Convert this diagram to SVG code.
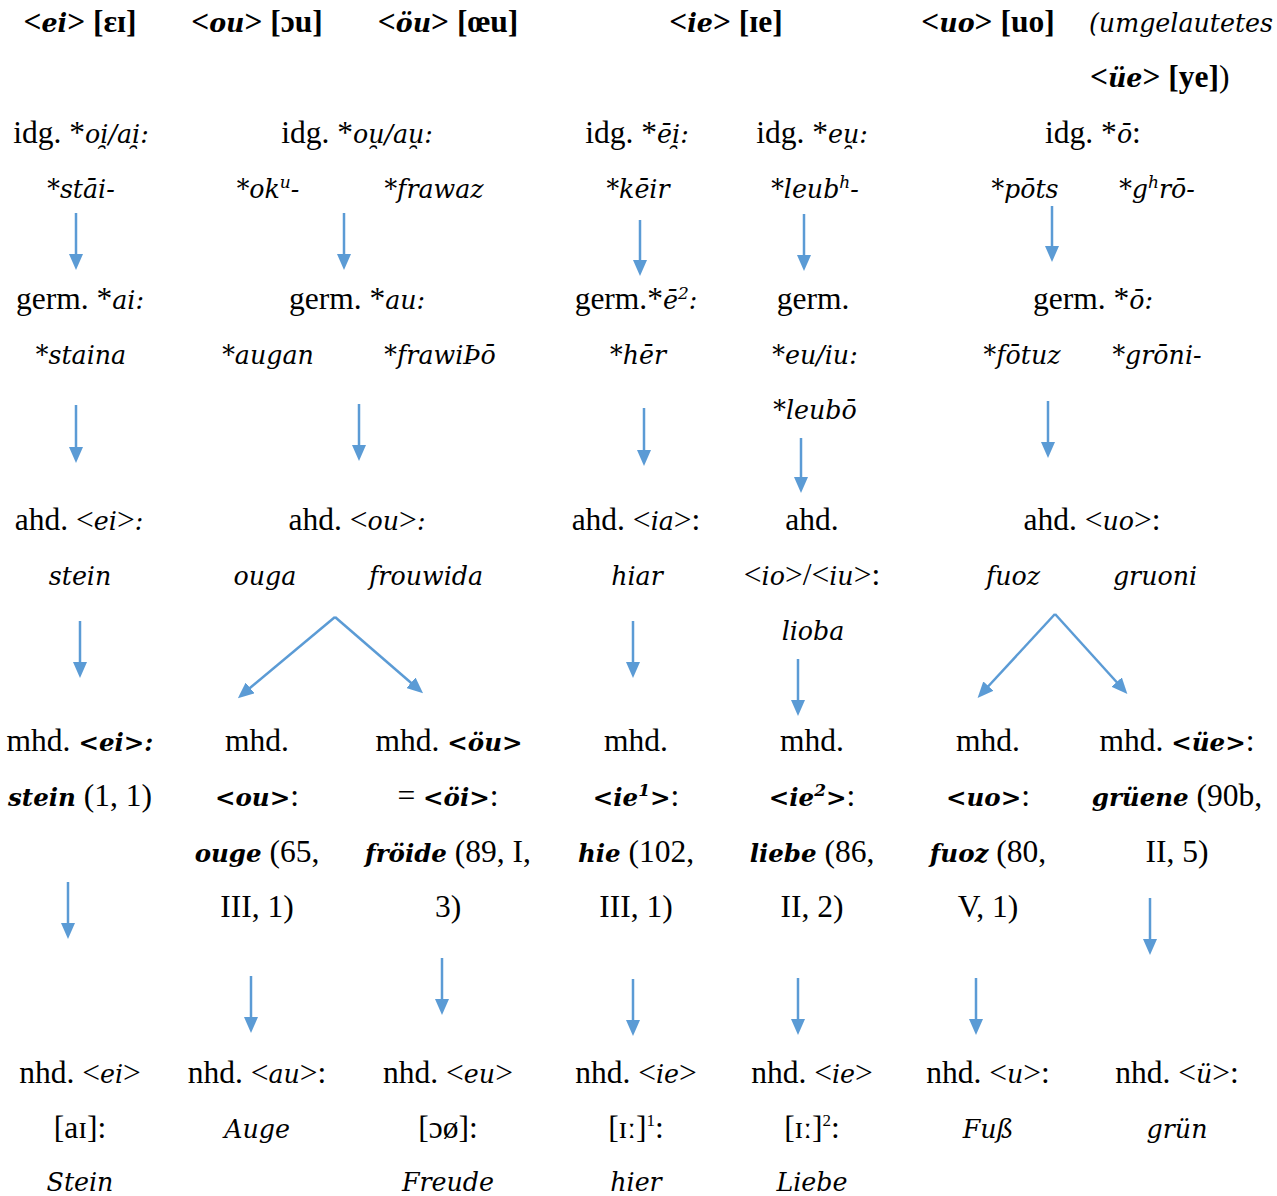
<svg xmlns="http://www.w3.org/2000/svg" width="1277" height="1196" viewBox="0 0 1277 1196">
<style>
text{font-family:"Liberation Serif","Times New Roman",serif;font-size:31.5px;fill:#000;text-anchor:middle}
.i{font-family:"DejaVu Serif",serif;font-style:italic;font-size:25.3px}
.b{font-weight:bold}
.b.i{font-size:24.5px}
.s{text-anchor:start}
.sup{font-size:17px}
.arr line{stroke:#5B9BD5;stroke-width:2.5;fill:none;marker-end:url(#ah)}
</style>
<defs>
<marker id="ah" viewBox="0 0 16 14" refX="8" refY="7" markerWidth="16" markerHeight="14" markerUnits="userSpaceOnUse" orient="auto">
<path d="M0,0 L16,7 L0,14 z" fill="#5B9BD5"/>
</marker>
</defs>
<rect width="1277" height="1196" fill="#fff"/>

<g id="header">
<g id="h-ei"><text x="80" y="32" class="b">&lt;<tspan class="i">ei</tspan>&gt; [ɛɪ]</text></g>
<g id="h-ou"><text x="257" y="32" class="b">&lt;<tspan class="i">ou</tspan>&gt; [ɔu]</text></g>
<g id="h-oeu"><text x="448" y="32" class="b">&lt;<tspan class="i">öu</tspan>&gt; [œu]</text></g>
<g id="h-ie"><text x="726" y="32" class="b">&lt;<tspan class="i">ie</tspan>&gt; [ɪe]</text></g>
<g id="h-uo"><text x="988" y="32" class="b">&lt;<tspan class="i">uo</tspan>&gt; [uo]</text></g>
<g id="h-ue"><text x="1089" y="32" class="s i">(umgelautetes</text>
<text x="1090" y="87.3" class="s"><tspan class="b">&lt;<tspan class="i">üe</tspan>&gt; [ye]</tspan>)</text></g>
</g>

<g id="idg">
<g id="idg-ei"><text x="81" y="142.6">idg. *<tspan class="i">oi̯/ai̯:</tspan></text>
<text x="81" y="197.9" class="i">*stāi-</text></g>
<g id="idg-ou"><text x="357" y="142.6">idg. *<tspan class="i">ou̯/au̯:</tspan></text>
<text x="268" y="197.9" class="i">*ok<tspan class="sup" dy="-10">u</tspan><tspan dy="10">-</tspan></text>
<text x="434" y="197.9" class="i">*frawaz</text></g>
<g id="idg-ie1"><text x="637" y="142.6">idg. *<tspan class="i">ēi̯:</tspan></text>
<text x="638" y="197.9" class="i">*kēir</text></g>
<g id="idg-ie2"><text x="812" y="142.6">idg. *<tspan class="i">eu̯:</tspan></text>
<text x="815" y="197.9" class="i">*leub<tspan class="sup" dy="-10">h</tspan><tspan dy="10">-</tspan></text></g>
<g id="idg-uo"><text x="1093" y="142.6">idg. *<tspan class="i">ō</tspan>:</text>
<text x="1025" y="197.9" class="i">*pōts</text>
<text x="1157" y="197.9" class="i">*g<tspan class="sup" dy="-10">h</tspan><tspan dy="10">rō-</tspan></text></g>
</g>

<g id="germ">
<g id="germ-ei"><text x="80" y="308.5">germ. *<tspan class="i">ai:</tspan></text>
<text x="81" y="363.8" class="i">*staina</text></g>
<g id="germ-ou"><text x="357" y="308.5">germ. *<tspan class="i">au:</tspan></text>
<text x="268" y="363.8" class="i">*augan</text>
<text x="440" y="363.8" class="i">*frawiÞō</text></g>
<g id="germ-ie1"><text x="636" y="308.5">germ.*<tspan class="i">ē<tspan class="sup" dy="-10">2</tspan><tspan dy="10">:</tspan></tspan></text>
<text x="638" y="363.8" class="i">*hēr</text></g>
<g id="germ-ie2"><text x="813" y="308.5">germ.</text>
<text x="815" y="363.8" class="i">*eu/iu:</text>
<text x="815" y="419.1" class="i">*leubō</text></g>
<g id="germ-uo"><text x="1093" y="308.5">germ. *<tspan class="i">ō:</tspan></text>
<text x="1022" y="363.8" class="i">*fōtuz</text>
<text x="1157" y="363.8" class="i">*grōni-</text></g>
</g>

<g id="ahd">
<g id="ahd-ei"><text x="79" y="529.7">ahd. &lt;<tspan class="i">ei</tspan>&gt;<tspan class="i">:</tspan></text>
<text x="80" y="585" class="i">stein</text></g>
<g id="ahd-ou"><text x="357" y="529.7">ahd. &lt;<tspan class="i">ou</tspan>&gt;<tspan class="i">:</tspan></text>
<text x="265" y="585" class="i">ouga</text>
<text x="426" y="585" class="i">frouwida</text></g>
<g id="ahd-ie1"><text x="636" y="529.7">ahd. &lt;<tspan class="i">ia</tspan>&gt;:</text>
<text x="637" y="585" class="i">hiar</text></g>
<g id="ahd-ie2"><text x="812" y="529.7">ahd.</text>
<text x="812" y="585">&lt;<tspan class="i">io</tspan>&gt;/&lt;<tspan class="i">iu</tspan>&gt;:</text>
<text x="813" y="640.3" class="i">lioba</text></g>
<g id="ahd-uo"><text x="1092" y="529.7">ahd. &lt;<tspan class="i">uo</tspan>&gt;:</text>
<text x="1013" y="585" class="i">fuoz</text>
<text x="1155" y="585" class="i">gruoni</text></g>
</g>

<g id="mhd">
<g id="mhd-ei"><text x="80" y="750.9">mhd. <tspan class="b i">&lt;ei&gt;:</tspan></text>
<text x="80" y="806.2"><tspan class="b i">stein</tspan> (1, 1)</text></g>
<g id="mhd-ou"><text x="257" y="750.9">mhd.</text>
<text x="257" y="806.2"><tspan class="b i">&lt;ou&gt;</tspan>:</text>
<text x="257" y="861.5"><tspan class="b i">ouge</tspan> (65,</text>
<text x="257" y="916.8">III, 1)</text></g>
<g id="mhd-oeu"><text x="449" y="750.9">mhd. <tspan class="b i">&lt;öu&gt;</tspan></text>
<text x="448" y="806.2">= <tspan class="b i">&lt;öi&gt;</tspan>:</text>
<text x="448" y="861.5"><tspan class="b i">fröide</tspan> (89, I,</text>
<text x="448" y="916.8">3)</text></g>
<g id="mhd-ie1"><text x="636" y="750.9">mhd.</text>
<text x="636" y="806.2"><tspan class="b i">&lt;ie<tspan class="sup" dy="-10">1</tspan><tspan dy="10">&gt;</tspan></tspan>:</text>
<text x="636" y="861.5"><tspan class="b i">hie</tspan> (102,</text>
<text x="636" y="916.8">III, 1)</text></g>
<g id="mhd-ie2"><text x="812" y="750.9">mhd.</text>
<text x="812" y="806.2"><tspan class="b i">&lt;ie<tspan class="sup" dy="-10">2</tspan><tspan dy="10">&gt;</tspan></tspan>:</text>
<text x="812" y="861.5"><tspan class="b i">liebe</tspan> (86,</text>
<text x="812" y="916.8">II, 2)</text></g>
<g id="mhd-uo"><text x="988" y="750.9">mhd.</text>
<text x="988" y="806.2"><tspan class="b i">&lt;uo&gt;</tspan>:</text>
<text x="988" y="861.5"><tspan class="b i">fuoz</tspan> (80,</text>
<text x="988" y="916.8">V, 1)</text></g>
<g id="mhd-ue"><text x="1177" y="750.9">mhd. <tspan class="b i">&lt;üe&gt;</tspan>:</text>
<text x="1177" y="806.2"><tspan class="b i">grüene</tspan> (90b,</text>
<text x="1177" y="861.5">II, 5)</text></g>
</g>

<g id="nhd">
<g id="nhd-ei"><text x="80" y="1082.7">nhd. &lt;<tspan class="i">ei</tspan>&gt;</text>
<text x="80" y="1138">[aɪ]:</text>
<text x="80" y="1191" class="i">Stein</text></g>
<g id="nhd-au"><text x="257" y="1082.7">nhd. &lt;<tspan class="i">au</tspan>&gt;:</text>
<text x="257" y="1138" class="i">Auge</text></g>
<g id="nhd-eu"><text x="448" y="1082.7">nhd. &lt;<tspan class="i">eu</tspan>&gt;</text>
<text x="448" y="1138">[ɔø]:</text>
<text x="448" y="1191" class="i">Freude</text></g>
<g id="nhd-ie1"><text x="636" y="1082.7">nhd. &lt;<tspan class="i">ie</tspan>&gt;</text>
<text x="636" y="1138">[ɪː]<tspan class="sup" dy="-12">1</tspan><tspan dy="12">:</tspan></text>
<text x="636" y="1191" class="i">hier</text></g>
<g id="nhd-ie2"><text x="812" y="1082.7">nhd. &lt;<tspan class="i">ie</tspan>&gt;</text>
<text x="812" y="1138">[ɪː]<tspan class="sup" dy="-12">2</tspan><tspan dy="12">:</tspan></text>
<text x="812" y="1191" class="i">Liebe</text></g>
<g id="nhd-u"><text x="988" y="1082.7">nhd. &lt;<tspan class="i">u</tspan>&gt;:</text>
<text x="988" y="1138" class="i">Fuß</text></g>
<g id="nhd-ue"><text x="1177" y="1082.7">nhd. &lt;<tspan class="i">ü</tspan>&gt;:</text>
<text x="1177" y="1138" class="i">grün</text></g>
</g>

<g id="connectors" class="arr">
<line x1="76" y1="213" x2="76" y2="262"/>
<line x1="76" y1="405" x2="76" y2="455"/>
<line x1="80" y1="621" x2="80" y2="670"/>
<line x1="68" y1="882" x2="68" y2="931"/>
<line x1="344" y1="213" x2="344" y2="262"/>
<line x1="359" y1="404" x2="359" y2="453"/>
<line x1="335" y1="617" x2="244" y2="693"/>
<line x1="335" y1="617" x2="417" y2="688"/>
<line x1="251" y1="976" x2="251" y2="1025"/>
<line x1="442" y1="958" x2="442" y2="1007"/>
<line x1="640" y1="220" x2="640" y2="268"/>
<line x1="644" y1="408" x2="644" y2="458"/>
<line x1="633" y1="621" x2="633" y2="670"/>
<line x1="633" y1="979" x2="633" y2="1028"/>
<line x1="804" y1="214" x2="804" y2="263"/>
<line x1="801" y1="438" x2="801" y2="485"/>
<line x1="798" y1="659" x2="798" y2="708"/>
<line x1="798" y1="978" x2="798" y2="1027"/>
<line x1="1052" y1="206" x2="1052" y2="254"/>
<line x1="1048" y1="401" x2="1048" y2="450"/>
<line x1="1055" y1="614" x2="983" y2="692"/>
<line x1="1055" y1="614" x2="1122" y2="688"/>
<line x1="976" y1="978" x2="976" y2="1027"/>
<line x1="1150" y1="898" x2="1150" y2="947"/>
</g>
</svg>
